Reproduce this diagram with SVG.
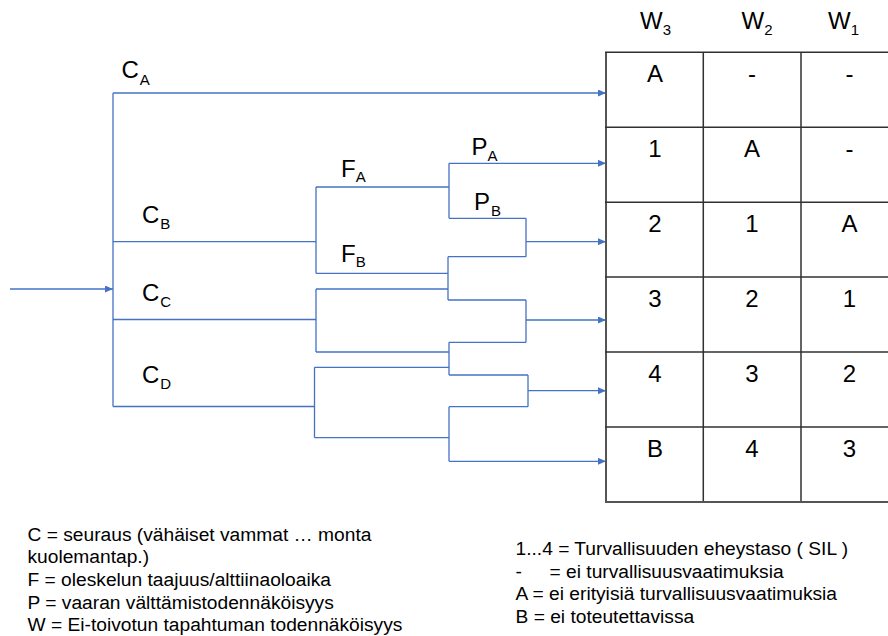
<svg xmlns="http://www.w3.org/2000/svg" width="888" height="636" viewBox="0 0 888 636">
<style>
.ln{fill:none;stroke:#4472C4;stroke-width:1.3}
.ar{fill:none;stroke:#4472C4;stroke-width:1.3;marker-end:url(#ah)}
.tb{fill:none;stroke:#303030;stroke-width:1.5}
text{font-family:"Liberation Sans",Arial,sans-serif;fill:#000}
.lbl{font-size:24px}
.sub{font-size:15px}
.cell{font-size:24px;text-anchor:middle}
.leg{font-size:19.2px}
</style>
<defs>
<marker id="ah" viewBox="0 0 8 7" refX="8" refY="3.5" markerWidth="8" markerHeight="7" markerUnits="userSpaceOnUse" orient="auto">
<path d="M0,0 L8,3.5 L0,7 Z" fill="#4472C4"/>
</marker>
</defs>
<rect width="888" height="636" fill="#fff"/>

<g id="connectors">
<line class="ar" x1="10" y1="289" x2="113" y2="289"/>
<line class="ln" x1="113" y1="93" x2="113" y2="406.5"/>
<line class="ar" x1="113" y1="93" x2="606" y2="93"/>
<line class="ln" x1="113" y1="241.7" x2="316" y2="241.7"/>
<line class="ln" x1="113" y1="319.5" x2="316" y2="319.5"/>
<line class="ln" x1="113" y1="406.5" x2="314.5" y2="406.5"/>
<line class="ln" x1="316" y1="187" x2="316" y2="273.3"/>
<line class="ln" x1="316" y1="187" x2="449" y2="187"/>
<line class="ln" x1="316" y1="273.3" x2="448" y2="273.3"/>
<line class="ln" x1="449" y1="163.3" x2="449" y2="218.3"/>
<line class="ar" x1="449" y1="163.3" x2="606" y2="163.3"/>
<line class="ln" x1="449" y1="218.3" x2="526" y2="218.3"/>
<line class="ln" x1="526" y1="218.3" x2="526" y2="256.7"/>
<line class="ar" x1="526" y1="241.7" x2="606" y2="241.7"/>
<line class="ln" x1="448" y1="256.7" x2="526" y2="256.7"/>
<line class="ln" x1="448" y1="256.7" x2="448" y2="300"/>
<line class="ln" x1="448" y1="300" x2="526" y2="300"/>
<line class="ln" x1="316" y1="289" x2="316" y2="352"/>
<line class="ln" x1="316" y1="289" x2="448" y2="289"/>
<line class="ln" x1="316" y1="352" x2="449" y2="352"/>
<line class="ln" x1="526" y1="300" x2="526" y2="342.3"/>
<line class="ar" x1="526" y1="320" x2="606" y2="320"/>
<line class="ln" x1="449" y1="342.3" x2="526" y2="342.3"/>
<line class="ln" x1="449" y1="342.3" x2="449" y2="375"/>
<line class="ln" x1="449" y1="375" x2="528" y2="375"/>
<line class="ln" x1="314.5" y1="367.3" x2="314.5" y2="437.7"/>
<line class="ln" x1="314.5" y1="367.3" x2="449" y2="367.3"/>
<line class="ln" x1="314.5" y1="437.7" x2="449" y2="437.7"/>
<line class="ln" x1="528" y1="375" x2="528" y2="406.7"/>
<line class="ar" x1="528" y1="390.7" x2="606" y2="390.7"/>
<line class="ln" x1="449" y1="406.7" x2="528" y2="406.7"/>
<line class="ln" x1="449" y1="406.7" x2="449" y2="461.3"/>
<line class="ar" x1="449" y1="461.3" x2="606" y2="461.3"/>
</g>

<g id="labels">
<text class="lbl" x="121.5" y="77.5">C<tspan class="sub" dx="1" dy="7">A</tspan></text>
<text class="lbl" x="142" y="223">C<tspan class="sub" dx="1" dy="6">B</tspan></text>
<text class="lbl" x="142" y="300.5">C<tspan class="sub" dx="1" dy="6">C</tspan></text>
<text class="lbl" x="142" y="383">C<tspan class="sub" dx="1" dy="6">D</tspan></text>
<text class="lbl" x="341" y="176.5">F<tspan class="sub" dy="5.5">A</tspan></text>
<text class="lbl" x="341" y="261.5">F<tspan class="sub" dy="5.5">B</tspan></text>
<text class="lbl" x="471.5" y="155">P<tspan class="sub" dy="5.5">A</tspan></text>
<text class="lbl" x="474" y="210">P<tspan class="sub" dx="1" dy="5.5">B</tspan></text>
</g>

<g id="table">
<line class="tb" x1="606" y1="52.3" x2="606" y2="502" style="stroke-width:2;stroke:#555"/>
<line class="tb" x1="703.3" y1="52.3" x2="703.3" y2="502"/>
<line class="tb" x1="801" y1="52.3" x2="801" y2="502"/>
<line class="tb" x1="605" y1="52.3" x2="888" y2="52.3"/>
<line class="tb" x1="605" y1="127.3" x2="888" y2="127.3"/>
<line class="tb" x1="605" y1="202.3" x2="888" y2="202.3"/>
<line class="tb" x1="605" y1="277" x2="888" y2="277"/>
<line class="tb" x1="605" y1="352" x2="888" y2="352"/>
<line class="tb" x1="605" y1="427" x2="888" y2="427"/>
<line class="tb" x1="605" y1="502" x2="888" y2="502" style="stroke-width:2;stroke:#555"/>
<text class="lbl" x="640" y="28.5">W<tspan class="sub" dy="6.5">3</tspan></text>
<text class="lbl" x="741.5" y="28.5">W<tspan class="sub" dy="6.5">2</tspan></text>
<text class="lbl" x="828" y="28.5">W<tspan class="sub" dy="6.5">1</tspan></text>
<text class="cell" x="655" y="81.8">A</text>
<text class="cell" x="752" y="81.8">-</text>
<text class="cell" x="849.5" y="81.8">-</text>
<text class="cell" x="655" y="156.8">1</text>
<text class="cell" x="752" y="156.8">A</text>
<text class="cell" x="849.5" y="156.8">-</text>
<text class="cell" x="655" y="231.8">2</text>
<text class="cell" x="752" y="231.8">1</text>
<text class="cell" x="849.5" y="231.8">A</text>
<text class="cell" x="655" y="306.5">3</text>
<text class="cell" x="752" y="306.5">2</text>
<text class="cell" x="849.5" y="306.5">1</text>
<text class="cell" x="655" y="381.5">4</text>
<text class="cell" x="752" y="381.5">3</text>
<text class="cell" x="849.5" y="381.5">2</text>
<text class="cell" x="655" y="456.5">B</text>
<text class="cell" x="752" y="456.5">4</text>
<text class="cell" x="849.5" y="456.5">3</text>
</g>

<g id="legend-left">
<text class="leg" x="27.5" y="540.7">C = seuraus (vähäiset vammat … monta</text>
<text class="leg" x="27.5" y="563.4">kuolemantap.)</text>
<text class="leg" x="27.5" y="586">F = oleskelun taajuus/alttiinaoloaika</text>
<text class="leg" x="27.5" y="608.7">P = vaaran välttämistodennäköisyys</text>
<text class="leg" x="27.5" y="631.3">W = Ei-toivotun tapahtuman todennäköisyys</text>
</g>

<g id="legend-right">
<text class="leg" x="515.5" y="555">1...4 = Turvallisuuden eheystaso ( SIL )</text>
<text class="leg" x="515.5" y="577.6">-<tspan x="549.5">= ei turvallisuusvaatimuksia</tspan></text>
<text class="leg" x="515.5" y="600.2">A = ei erityisiä turvallisuusvaatimuksia</text>
<text class="leg" x="515.5" y="622.8">B = ei toteutettavissa</text>
</g>
</svg>
